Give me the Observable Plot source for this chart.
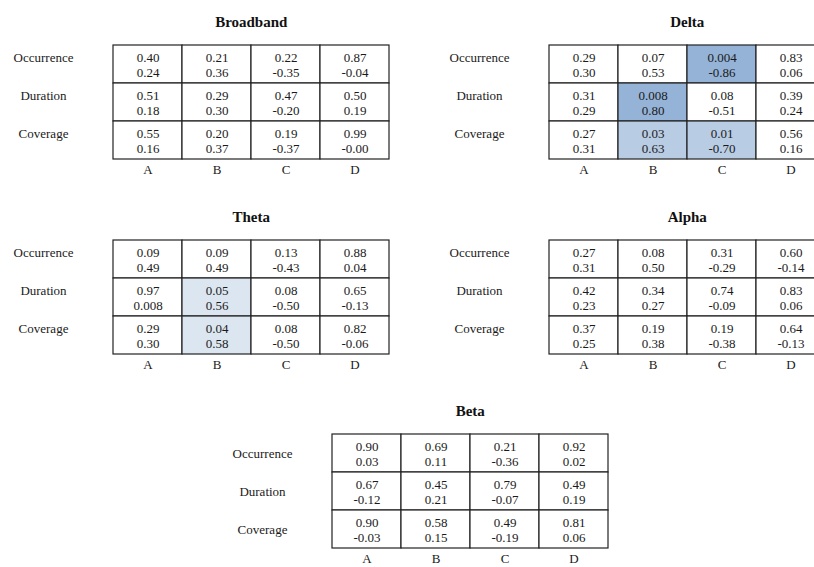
<!DOCTYPE html>
<html>
<head>
<meta charset="utf-8">
<script src="https://cdn.jsdelivr.net/npm/d3@7"></script>
<script src="https://cdn.jsdelivr.net/npm/@observablehq/plot@0.6"></script>
<style>
  html, body { margin: 0; padding: 0; background: white; overflow: hidden; }
  #wrap { position: relative; width: 814px; height: 567px; overflow: hidden; background: white; }
  .panel { position: absolute; width: 400px; height: 182px; }
  .panel svg { max-width: none !important; width: 400px; height: 182px; }
</style>
</head>
<body>
<div id="wrap"></div>
<script>
const cols = ["A", "B", "C", "D"];
const rows = ["Occurrence", "Duration", "Coverage"];

// p-values (row-major: Occurrence, Duration, Coverage; columns A-D)
const broadbandP = ["0.40","0.21","0.22","0.87", "0.51","0.29","0.47","0.50", "0.55","0.20","0.19","0.99"];
const broadbandR = ["0.24","0.36","-0.35","-0.04", "0.18","0.30","-0.20","0.19", "0.16","0.37","-0.37","-0.00"];
const broadbandShade = [0,0,0,0, 0,0,0,0, 0,0,0,0];

const deltaP = ["0.29","0.07","0.004","0.83", "0.31","0.008","0.08","0.39", "0.27","0.03","0.01","0.56"];
const deltaR = ["0.30","0.53","-0.86","0.06", "0.29","0.80","-0.51","0.24", "0.31","0.63","-0.70","0.16"];
const deltaShade = [0,0,3,0, 0,3,0,0, 0,2,2,0];

const thetaP = ["0.09","0.09","0.13","0.88", "0.97","0.05","0.08","0.65", "0.29","0.04","0.08","0.82"];
const thetaR = ["0.49","0.49","-0.43","0.04", "0.008","0.56","-0.50","-0.13", "0.30","0.58","-0.50","-0.06"];
const thetaShade = [0,0,0,0, 0,1,0,0, 0,1,0,0];

const alphaP = ["0.27","0.08","0.31","0.60", "0.42","0.34","0.74","0.83", "0.37","0.19","0.19","0.64"];
const alphaR = ["0.31","0.50","-0.29","-0.14", "0.23","0.27","-0.09","0.06", "0.25","0.38","-0.38","-0.13"];
const alphaShade = [0,0,0,0, 0,0,0,0, 0,0,0,0];

const betaP = ["0.90","0.69","0.21","0.92", "0.67","0.45","0.79","0.49", "0.90","0.58","0.49","0.81"];
const betaR = ["0.03","0.11","-0.36","0.02", "-0.12","0.21","-0.07","0.19", "-0.03","0.15","-0.19","0.06"];
const betaShade = [0,0,0,0, 0,0,0,0, 0,0,0,0];

const shadeColors = ["#ffffff", "#dce6f1", "#b8cce4", "#95b3d7"];

const panels = [
  {title: "Broadband", p: broadbandP, r: broadbandR, s: broadbandShade, left: 0,     top: 0,   labelDy: -6.5},
  {title: "Delta",     p: deltaP,     r: deltaR,     s: deltaShade,     left: 436.3, top: 0,   labelDy: -6.5},
  {title: "Theta",     p: thetaP,     r: thetaR,     s: thetaShade,     left: 0,     top: 195, labelDy: -6.5},
  {title: "Alpha",     p: alphaP,     r: alphaR,     s: alphaShade,     left: 436.3, top: 195, labelDy: -6.5},
  {title: "Beta",      p: betaP,      r: betaR,      s: betaShade,      left: 218.7, top: 389, labelDy: 0}
];

const wrap = document.getElementById("wrap");

for (const pn of panels) {
  const data = [];
  rows.forEach((row, i) => cols.forEach((col, j) => {
    const k = i * cols.length + j;
    data.push({row, col, p: pn.p[k], r: pn.r[k], shade: pn.s[k]});
  }));

  const chart = Plot.plot({
    width: 400,
    height: 182,
    marginLeft: 112,
    marginRight: 10.5,
    marginTop: 44.3,
    marginBottom: 22.7,
    x: {domain: cols, padding: 0, axis: null},
    y: {domain: rows, padding: 0, axis: null},
    color: {type: "ordinal", domain: [0, 1, 2, 3], range: shadeColors},
    style: {fontFamily: "'Liberation Serif', 'DejaVu Serif', serif", fontSize: "13px", background: "white", color: "#111", maxWidth: "none"},
    marks: [
      Plot.cell(data, {x: "col", y: "row", fill: "shade", stroke: "#222", strokeWidth: 1.2, inset: 0}),
      Plot.text(data, {x: "col", y: "row", text: "p", dy: -6.5, fill: "#1a1a1a"}),
      Plot.text(data, {x: "col", y: "row", text: "r", dy: 8.5, fill: "#1a1a1a"}),
      Plot.text(rows, {y: d => d, text: d => d, frameAnchor: "left", textAnchor: "middle", dx: -69, dy: pn.labelDy, fill: "#1a1a1a"}),
      Plot.text(cols, {x: d => d, text: d => d, frameAnchor: "bottom", dy: 14.5, fill: "#1a1a1a"}),
      Plot.text([pn.title], {text: d => d, frameAnchor: "top", dy: -28.3, fontWeight: "bold", fontSize: 15, fill: "#111"})
    ]
  });

  const div = document.createElement("div");
  div.className = "panel";
  div.style.left = pn.left + "px";
  div.style.top = pn.top + "px";
  div.appendChild(chart);
  wrap.appendChild(div);
}
</script>
</body>
</html>
